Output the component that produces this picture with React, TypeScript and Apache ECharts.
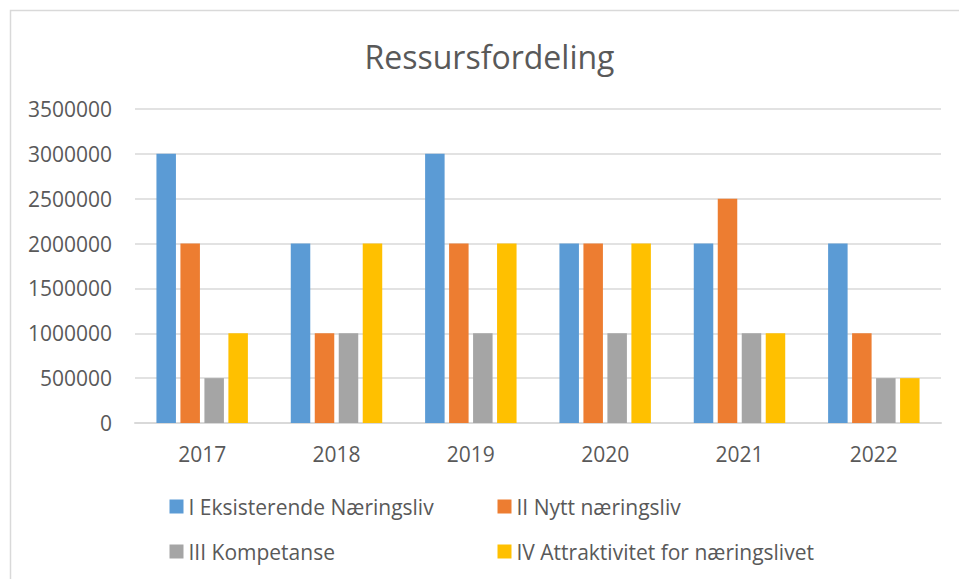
import React, { useEffect, useRef } from "react";
import * as echarts from "echarts";

const categories = ["2017", "2018", "2019", "2020", "2021", "2022"];
const seriesNames = [
  "I Eksisterende Næringsliv",
  "II Nytt næringsliv",
  "III Kompetanse",
  "IV Attraktivitet for næringslivet",
];
const eksisterende = [3000000, 2000000, 3000000, 2000000, 2000000, 2000000];
const nytt = [2000000, 1000000, 2000000, 2000000, 2500000, 1000000];
const kompetanse = [500000, 1000000, 1000000, 1000000, 1000000, 500000];
const attraktivitet = [1000000, 2000000, 2000000, 2000000, 1000000, 500000];
const colors = ["#5B9BD5", "#ED7D31", "#A5A5A5", "#FFC000"];
const yTicks = [0, 500000, 1000000, 1500000, 2000000, 2500000, 3000000, 3500000];

const FONT = "'Open Sans', 'Noto Sans', sans-serif";
const TEXT = "#595959";
const GRID = "#d9d9d9";

export default function App() {
  const ref = useRef<HTMLDivElement>(null);
  useEffect(() => {
    if (!ref.current) return;
    const chart = echarts.init(ref.current, null, { renderer: "svg" });
    const values = [eksisterende, nytt, kompetanse, attraktivitet];
    const legendPos = [
      { left: 169.5, top: 496 },
      { left: 497.5, top: 496 },
      { left: 169.5, top: 541 },
      { left: 497.5, top: 541 },
    ];
    chart.setOption({
      animation: false,
      backgroundColor: "#ffffff",
      textStyle: { fontFamily: FONT },
      graphic: [
        {
          type: "rect",
          shape: { x: 10.5, y: 10.5, width: 960, height: 580 },
          style: { fill: "none", stroke: GRID, lineWidth: 1.5 },
          silent: true,
        },
        {
          type: "text",
          x: 489.5,
          y: 56,
          style: {
            text: "Ressursfordeling",
            fill: TEXT,
            font: `32px ${FONT}`,
            textAlign: "center",
            textVerticalAlign: "middle",
          },
        },
      ],
      legend: seriesNames.map((name, i) => ({
        data: [name],
        left: legendPos[i].left,
        top: legendPos[i].top,
        padding: 0,
        itemWidth: 14,
        itemHeight: 14,
        icon: "rect",
        selectedMode: false,
        textStyle: { color: TEXT, fontSize: 21, fontFamily: FONT },
      })),
      grid: { left: 135, right: 18, top: 109, bottom: 156, containLabel: false },
      xAxis: {
        type: "category",
        data: categories,
        axisLine: { lineStyle: { color: GRID, width: 2 } },
        axisTick: { show: false },
        axisLabel: { color: TEXT, fontSize: 21, fontFamily: FONT, margin: 20 },
      },
      yAxis: {
        type: "value",
        min: yTicks[0],
        max: yTicks[yTicks.length - 1],
        interval: 500000,
        axisLine: { show: false },
        axisTick: { show: false },
        splitLine: { lineStyle: { color: GRID, width: 1.5 } },
        axisLabel: {
          color: TEXT,
          fontSize: 21,
          fontFamily: FONT,
          margin: 23,
          formatter: (v: number) => String(v),
        },
      },
      series: seriesNames.map((name, i) => ({
        name,
        type: "bar",
        data: values[i],
        barWidth: 19.5,
        barGap: "23%",
        itemStyle: { color: colors[i] },
      })),
    });
    return () => chart.dispose();
  }, []);
  return (
    <div
      ref={ref}
      style={{ position: "fixed", left: 0, top: 0, width: 959, height: 579 }}
    />
  );
}
